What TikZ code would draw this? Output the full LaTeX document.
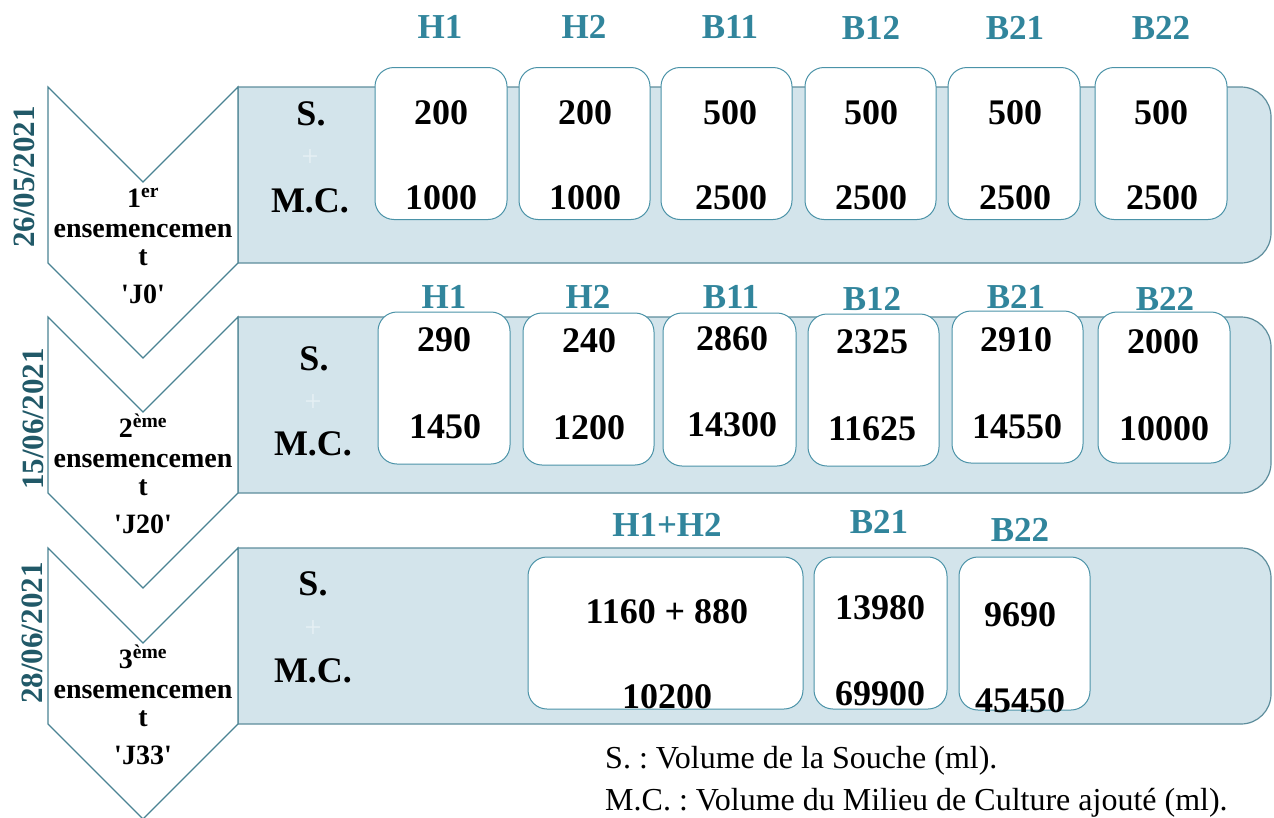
\documentclass[tikz,border=0pt]{standalone}
\usepackage{fontspec}
\setmainfont{Liberation Serif}[Ligatures=TeXOff]
\frenchspacing
\definecolor{hdrc}{HTML}{31859C}
\definecolor{datec}{HTML}{215968}
\definecolor{bandfill}{HTML}{D3E4EB}
\definecolor{bandline}{HTML}{5D8D9C}
\definecolor{chevline}{HTML}{4A8393}
\definecolor{boxline}{HTML}{4B93A8}
\definecolor{plusc}{HTML}{E6F0F4}
\tikzset{
 chev/.style={draw=chevline, fill=white, line width=1.2pt, line join=miter},
 band/.style={draw=bandline, fill=bandfill, line width=1.2pt},
 vbox/.style={draw=boxline, fill=white, line width=1pt, rounded corners=19pt, inner sep=0pt},
 hdr/.style={text=hdrc, font=\fontsize{35}{40}\selectfont\bfseries, inner sep=0pt},
 num/.style={font=\fontsize{36}{40}\selectfont\bfseries, inner sep=0pt},
 lbl/.style={font=\fontsize{36}{40}\selectfont\bfseries, inner sep=0pt, anchor=base},
 plusmark/.style={text=plusc, font=\fontsize{30}{34}\selectfont, inner sep=0pt},
 chevtxt/.style={font=\fontsize{28}{30}\selectfont\bfseries, inner sep=0pt, anchor=base},
 datetxt/.style={text=datec, font=\fontsize{31}{34}\selectfont\bfseries, rotate=90, inner sep=0pt},
 legendtxt/.style={font=\fontsize{32}{36}\selectfont, inner sep=0pt, anchor=base west},
}
\newcommand\valbox[5]{\node[vbox, minimum width=#3, minimum height=#4] (#5) at (#1,#2) {};}
\begin{document}
\begin{tikzpicture}[x=1pt,y=-1pt]
\useasboundingbox (0,0) rectangle (1274,817);
% bands
\foreach \T in {87,317,548}{
 \draw[band] (238,\T) -- (1241,\T) .. controls (1257.6,\T) and (1271,\T+13.4) .. (1271,\T+30)
   -- (1271,\T+146) .. controls (1271,\T+162.6) and (1257.6,\T+176) .. (1241,\T+176)
   -- (238,\T+176) -- cycle;
}
% chevrons
\foreach \T in {87,317,548}{
 \draw[chev] (48,\T) -- (143,\T+95) -- (238,\T) -- (238,\T+176) -- (143,\T+271) -- (48,\T+176) -- cycle;
}
% chevron texts
\node[chevtxt] (c1a) at (143,207) {1\textsuperscript{er}};
\node[chevtxt] (c1b) at (143,237) {ensemencemen};
\node[chevtxt] (c1c) at (143,265) {t};
\node[chevtxt] (c1d) at (143,303) {'J0'};
\node[chevtxt] (c2a) at (143,437) {2\textsuperscript{ème}};
\node[chevtxt] (c2b) at (143,467) {ensemencemen};
\node[chevtxt] (c2c) at (143,495) {t};
\node[chevtxt] (c2d) at (143,533) {'J20'};
\node[chevtxt] (c3a) at (143,668) {3\textsuperscript{ème}};
\node[chevtxt] (c3b) at (143,698) {ensemencemen};
\node[chevtxt] (c3c) at (143,726) {t};
\node[chevtxt] (c3d) at (143,764) {'J33'};
% dates
\node[datetxt] (d1) at (24,177) {26/05/2021};
\node[datetxt] (d2) at (33,419) {15/06/2021};
\node[datetxt] (d3) at (32,633) {28/06/2021};
% S. + M.C.
\node[lbl] (s1) at (311,125) {S.};
\node[plusmark] (p1) at (310,158) {+};
\node[lbl] (m1) at (310,212) {M.C.};
\node[lbl] (s2) at (314,370) {S.};
\node[plusmark] (p2) at (313,403) {+};
\node[lbl] (m2) at (313,455) {M.C.};
\node[lbl] (s3) at (313,595) {S.};
\node[plusmark] (p3) at (313,629) {+};
\node[lbl] (m3) at (313,682) {M.C.};
% row 1 boxes
\valbox{441}{143.5}{132}{152}{r1h1}
\valbox{584.5}{143.5}{131}{152}{r1h2}
\valbox{726.5}{143.5}{131}{152}{r1b11}
\valbox{870.5}{143.5}{131}{152}{r1b12}
\valbox{1014}{143.5}{132}{152}{r1b21}
\valbox{1161}{143.5}{132}{152}{r1b22}
% row 2 boxes
\valbox{444}{388}{132}{152}{r2h1}
\valbox{588.5}{389}{131}{152}{r2h2}
\valbox{729.5}{389.5}{133}{153}{r2b11}
\valbox{873.5}{390}{131}{152}{r2b12}
\valbox{1017.5}{387}{131}{152}{r2b21}
\valbox{1164}{387.5}{132}{151}{r2b22}
% row 3 boxes
\valbox{665.5}{633}{275}{152}{r3h}
\valbox{880.5}{633}{133}{152}{r3b21}
\valbox{1024.5}{633.5}{131}{153}{r3b22}
% headers
\node[hdr] (h1a) at (440,27) {H1};
\node[hdr] (h1b) at (584,27) {H2};
\node[hdr] (h1c) at (730,27) {B11};
\node[hdr] (h1d) at (871,28) {B12};
\node[hdr] (h1e) at (1015,28) {B21};
\node[hdr] (h1f) at (1161,28) {B22};
\node[hdr] (h2a) at (444,297) {H1};
\node[hdr] (h2b) at (588,297) {H2};
\node[hdr] (h2c) at (731,297) {B11};
\node[hdr] (h2d) at (872,299) {B12};
\node[hdr] (h2e) at (1016,297) {B21};
\node[hdr] (h2f) at (1165,299) {B22};
\node[hdr] (h3a) at (667,525) {H1+H2};
\node[hdr] (h3b) at (879,522) {B21};
\node[hdr] (h3c) at (1020,530) {B22};
% row 1 numbers
\node[num] (n1a) at (441,113) {200};  \node[num] (n1A) at (441,198) {1000};
\node[num] (n1b) at (585,113) {200};  \node[num] (n1B) at (585,198) {1000};
\node[num] (n1c) at (730,113) {500};  \node[num] (n1C) at (731,198) {2500};
\node[num] (n1d) at (871,113) {500};  \node[num] (n1D) at (871,198) {2500};
\node[num] (n1e) at (1015,113) {500}; \node[num] (n1E) at (1015,198) {2500};
\node[num] (n1f) at (1161,113) {500}; \node[num] (n1F) at (1162,198) {2500};
% row 2 numbers
\node[num] (n2a) at (444,340) {290};   \node[num] (n2A) at (445,427) {1450};
\node[num] (n2b) at (589,341) {240};   \node[num] (n2B) at (589,428) {1200};
\node[num] (n2c) at (732,339) {2860};  \node[num] (n2C) at (732,425) {14300};
\node[num] (n2d) at (872,342) {2325};  \node[num] (n2D) at (872,429) {11625};
\node[num] (n2e) at (1016,340) {2910}; \node[num] (n2E) at (1017,427) {14550};
\node[num] (n2f) at (1163,342) {2000}; \node[num] (n2F) at (1164,429) {10000};
% row 3 numbers
\node[num] (n3a) at (667,612) {1160 + 880}; \node[num] (n3A) at (667,697) {10200};
\node[num] (n3b) at (880,608) {13980};      \node[num] (n3B) at (880,694) {69900};
\node[num] (n3c) at (1020,615) {9690};      \node[num] (n3C) at (1020,701) {45450};
% legend
\node[legendtxt] (lg1) at (605,768) {S. : Volume de la Souche (ml).};
\node[legendtxt] (lg2) at (605,810) {M.C. : Volume du Milieu de Culture ajouté (ml).};
\end{tikzpicture}
\end{document}
